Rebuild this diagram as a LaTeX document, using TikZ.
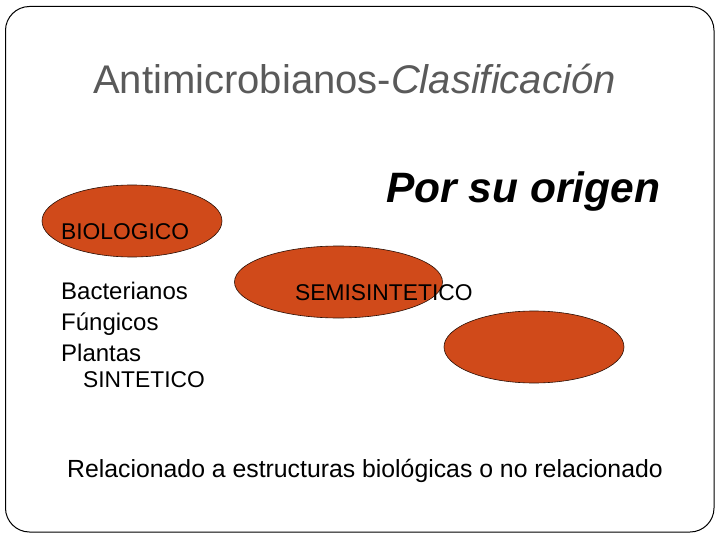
\documentclass[tikz,border=0pt]{standalone}
\usepackage{fontspec}
\setmainfont{Liberation Sans}
\usetikzlibrary{shapes.geometric}
\definecolor{ovalfill}{RGB}{208,74,26}
\definecolor{titlegray}{RGB}{90,90,90}
\tikzset{
  oval/.style={draw=black!80!ovalfill, line width=0.6pt, fill=ovalfill},
  lbl/.style={inner sep=0pt, anchor=base west, font=\fontsize{24}{28}\selectfont},
  caplbl/.style={lbl, font=\fontsize{22.8}{28}\selectfont},
}
\begin{document}
\begin{tikzpicture}[x=1pt,y=-1pt]
\useasboundingbox (0,0) rectangle (720,540);
\fill[white] (0,0) rectangle (720,540);
\draw[line width=1pt, rounded corners=24pt] (5.5,6.5) rectangle (714,532);
% title
\node[inner sep=0pt, anchor=base west, text=titlegray, font=\fontsize{40}{48}\selectfont] (title) at (93,94) {Antimicrobianos-\textit{Clasificación}};
\node[inner sep=0pt, anchor=base west, font=\fontsize{42.5}{50}\selectfont\bfseries\itshape] (origen) at (386,203) {Por su origen};
% ovals
\path[oval] (132,221) ellipse [x radius=90, y radius=36];
\path[oval] (338.5,282) ellipse [x radius=104, y radius=36];
\path[oval] (534,347) ellipse [x radius=90, y radius=36];
\node[caplbl] (bio) at (61,240) {BIOLOGICO};
\node[lbl] (bac) at (61,299) {Bacterianos};
\node[lbl] (fun) at (61,330) {Fúngicos};
\node[lbl] (pla) at (61,361) {Plantas};
\node[caplbl] (sin) at (83,387) {SINTETICO};
\node[caplbl] (semi) at (295,300) {SEMISINTETICO};
\node[lbl, font=\fontsize{24.8}{30}\selectfont] (rel) at (67,477) {Relacionado a estructuras biológicas o no relacionado};
\end{tikzpicture}
\end{document}
